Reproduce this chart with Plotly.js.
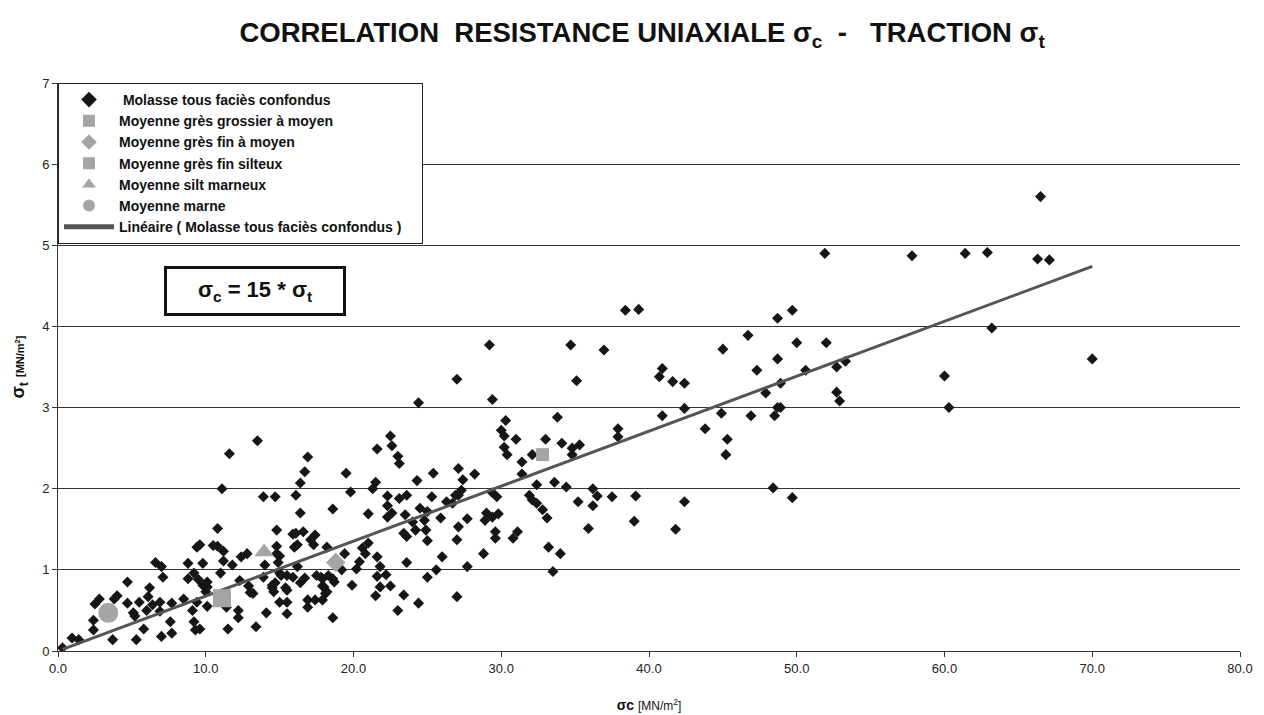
<!DOCTYPE html>
<html>
<head>
<meta charset="utf-8">
<script src="https://cdn.plot.ly/plotly-3.0.1.min.js"></script>
<style>html,body{margin:0;padding:0;background:#fff;}#chart{width:1264px;height:715px;}</style>
</head>
<body>
<div id="chart"></div>
<script>
// Molasse tous faciès confondus : [sigma_c, sigma_t] pairs (MN/m2)
const molassePairs = [
[0.3,0.04],[0.95,0.16],[1.4,0.14],[2.4,0.26],[2.4,0.38],[2.5,0.58],[2.8,0.64],[3.7,0.14],[3.8,0.64],[4.0,0.68],
[4.7,0.85],[4.7,0.59],[5.2,0.43],[5.3,0.14],[5.5,0.6],[5.8,0.27],[6.0,0.5],[6.1,0.67],[6.2,0.78],[6.6,1.09],
[7.0,1.04],[7.1,0.91],[6.4,0.57],[6.9,0.6],[6.9,0.49],[7.0,0.18],[7.6,0.36],[7.7,0.22],[7.7,0.59],[8.5,0.64],
[8.8,1.08],[8.8,0.89],[9.2,0.96],[9.4,1.28],[9.4,0.6],[9.1,0.5],[9.2,0.36],[9.3,0.26],[9.6,0.27],[9.8,1.08],
[9.8,0.81],[10.1,0.85],[10.1,0.55],[10.0,0.73],[10.8,1.51],[10.8,1.29],[11.0,0.96],[11.1,2.0],[11.2,1.11],[11.2,1.23],
[11.6,2.43],[11.8,1.06],[11.4,0.54],[11.5,0.27],[12.2,0.5],[12.2,0.41],[12.3,0.87],[12.4,1.16],[12.8,1.2],[12.9,0.8],
[13.2,0.71],[13.4,0.3],[13.5,2.59],[13.9,1.9],[14.0,1.06],[13.9,0.91],[14.1,0.47],[14.5,0.81],[14.6,0.73],[14.7,1.9],
[14.8,1.49],[14.8,1.29],[14.8,1.2],[15.0,0.96],[15.0,0.6],[15.5,0.6],[15.5,0.46],[15.5,0.75],[15.9,0.91],[16.1,1.45],
[16.2,1.31],[16.1,1.92],[16.4,2.07],[16.4,1.7],[16.7,2.21],[16.9,2.39],[16.2,1.04],[16.7,0.9],[16.9,0.63],[16.9,0.54],
[17.4,0.63],[16.6,1.47],[17.1,1.37],[17.4,1.43],[17.3,1.31],[17.9,0.89],[18.0,0.79],[18.2,0.73],[17.9,0.63],[18.6,1.75],
[18.6,0.41],[18.7,0.85],[18.2,1.28],[15.9,1.44],[9.6,1.31],[15.0,1.17],[16.0,1.28],[14.9,1.09],[15.1,0.93],[15.5,0.93],
[17.5,0.93],[17.8,0.91],[18.3,0.93],[18.6,0.89],[14.7,0.84],[14.5,0.78],[10.1,0.79],[13.0,0.72],[16.4,0.84],[17.9,0.8],
[18.1,0.71],[5.1,0.47],[9.5,0.88],[10.5,1.3],
[29.2,3.77],[34.7,3.77],[27.0,3.35],[35.1,3.33],[24.4,3.06],[29.4,3.1],[30.3,2.84],[30.0,2.72],[30.2,2.65],[31.0,2.61],
[33.8,2.88],[33.0,2.61],[34.1,2.56],[35.3,2.54],[34.8,2.5],[34.8,2.42],[30.2,2.51],[30.4,2.42],[31.4,2.33],[32.1,2.42],
[31.4,2.18],[32.4,2.05],[33.6,2.08],[34.4,2.02],[22.5,2.65],[22.6,2.53],[21.6,2.49],[23.0,2.4],[23.1,2.31],[19.5,2.19],
[19.8,1.96],[21.5,2.08],[21.3,2.0],[24.3,2.1],[25.4,2.19],[27.1,2.25],[27.4,2.11],[28.2,2.18],[27.3,1.98],[27.1,1.92],
[29.4,1.95],[29.7,1.9],[31.9,1.92],[32.1,1.86],[32.4,1.82],[32.8,1.74],[33.1,1.64],[35.2,1.84],[36.2,2.0],[36.5,1.91],
[36.2,1.79],[35.9,1.51],[33.2,1.28],[34.0,1.2],[33.5,0.98],[22.3,1.91],[22.3,1.79],[23.1,1.88],[23.6,1.92],[22.6,1.7],
[22.3,1.65],[23.5,1.68],[21.0,1.69],[25.3,1.9],[24.5,1.76],[25.0,1.72],[26.3,1.84],[26.7,1.82],[26.9,1.92],[24.0,1.59],
[24.8,1.61],[25.9,1.64],[24.9,1.49],[23.4,1.45],[23.6,1.41],[24.2,1.49],[25.0,1.36],[26.0,1.16],[23.6,1.09],[25.6,1.0],
[25.0,0.91],[27.7,1.63],[27.1,1.53],[27.0,1.37],[28.8,1.2],[27.7,1.04],[29.0,1.7],[29.4,1.65],[29.8,1.69],[28.9,1.61],
[29.6,1.47],[29.6,1.39],[31.1,1.47],[30.8,1.39],[21.0,1.33],[20.6,1.27],[20.8,1.2],[21.6,1.16],[20.4,1.1],[20.2,1.01],
[21.8,1.04],[22.2,0.94],[21.6,0.92],[21.8,0.79],[22.5,0.8],[23.4,0.69],[19.4,1.2],[19.2,1.0],[19.9,0.81],[15.4,0.78],
[27.0,0.67],[21.5,0.68],[24.4,0.59],[23.0,0.5],
[38.4,4.2],[36.95,3.71],[37.9,2.74],[37.9,2.64],[37.5,1.9],
[51.9,4.9],[39.3,4.21],[48.7,4.1],[49.7,4.2],[46.7,3.89],[45.0,3.72],[50.0,3.8],[52.0,3.8],[40.9,3.48],[40.7,3.38],
[41.6,3.32],[42.4,3.3],[47.3,3.46],[48.7,3.6],[50.6,3.46],[52.7,3.5],[53.3,3.57],[48.9,3.3],[47.9,3.18],[52.7,3.19],
[52.9,3.08],[42.4,2.99],[40.9,2.9],[44.9,2.93],[46.9,2.9],[48.5,2.9],[48.7,3.0],[48.9,3.0],[43.8,2.74],[45.3,2.61],
[45.2,2.42],[39.1,1.91],[42.4,1.84],[39.0,1.6],[41.8,1.5],[48.4,2.01],[49.7,1.89],
[66.5,5.6],[57.8,4.87],[61.4,4.9],[62.9,4.91],[66.3,4.83],[67.1,4.82],[63.2,3.98],[60.0,3.39],[70.0,3.6],[60.3,3.0]
];
const molasseX = molassePairs.map(p => p[0]);
const molasseY = molassePairs.map(p => p[1]);

// Moyennes par faciès
const gresGrossierX = [32.8], gresGrossierY = [2.42];
const gresFinMoyenX = [18.8], gresFinMoyenY = [1.09];
const gresFinSilteuxX = [11.1], gresFinSilteuxY = [0.65];
const siltMarneuxX = [13.95], siltMarneuxY = [1.22];
const marneX = [3.4], marneY = [0.47];

// Linear trend (end points)
const trendX = [0.3, 70.0];
const trendY = [0.02, 4.74];

const xTicks = [0,10,20,30,40,50,60,70,80];
const yTicks = [0,1,2,3,4,5,6,7];

const FONT = 'Liberation Sans, Arial, sans-serif';
const GREY = '#a5a5a5';

const traces = [
  {x: molasseX, y: molasseY, type:'scatter', mode:'markers', name:'\u00a0Molasse tous faciès confondus',
   marker:{symbol:'diamond', size:8.5, color:'#161616'}, legendrank:1},
  {x: trendX, y: trendY, type:'scatter', mode:'lines', name:'Linéaire ( Molasse tous faciès confondus )\u00a0\u00a0\u00a0\u00a0',
   line:{color:'#555555', width:3}, legendrank:7},
  {x: gresGrossierX, y: gresGrossierY, type:'scatter', mode:'markers', name:'Moyenne grès grossier à moyen',
   marker:{symbol:'square', size:13, color:GREY}, legendrank:2},
  {x: gresFinMoyenX, y: gresFinMoyenY, type:'scatter', mode:'markers', name:'Moyenne grès fin à moyen',
   marker:{symbol:'diamond', size:15, color:GREY}, legendrank:3},
  {x: gresFinSilteuxX, y: gresFinSilteuxY, type:'scatter', mode:'markers', name:'Moyenne grès fin silteux',
   marker:{symbol:'square', size:18, color:GREY}, legendrank:4},
  {x: siltMarneuxX, y: siltMarneuxY, type:'scatter', mode:'markers', name:'Moyenne silt marneux',
   marker:{symbol:'triangle-up', size:17, color:GREY}, legendrank:5},
  {x: marneX, y: marneY, type:'scatter', mode:'markers', name:'Moyenne marne',
   marker:{symbol:'circle', size:20, color:GREY}, legendrank:6}
];

const layout = {
  width:1264, height:715,
  paper_bgcolor:'#ffffff', plot_bgcolor:'#ffffff',
  margin:{l:58, r:24, t:83, b:64},
  font:{family:FONT, color:'#222'},
  title:{text:'CORRELATION  RESISTANCE UNIAXIALE σ<sub>c</sub>  -   TRACTION σ<sub>t</sub>',
    x:0.508, xref:'container', xanchor:'center', y:0.955, yref:'container', yanchor:'middle',
    font:{family:FONT, size:27.5, weight:'bold', color:'#111'}},
  showlegend:true,
  legend:{x:0, y:1, xref:'paper', yref:'paper', xanchor:'left', yanchor:'top',
    bgcolor:'#ffffff', bordercolor:'#222', borderwidth:1,
    font:{family:FONT, size:14, weight:'bold', color:'#111'},
    itemsizing:'constant', itemwidth:50, tracegroupgap:0, traceorder:'normal'},
  xaxis:{range:[0,80], tickvals:xTicks, tickformat:'.1f', ticks:'outside', ticklen:5, tickcolor:'#333',
    showline:true, linecolor:'#333', linewidth:1, showgrid:false, zeroline:false,
    tickfont:{family:FONT, size:13, color:'#222'},
    title:{text:'<b>σc</b> <span style="font-size:12px">[MN/m<sup>2</sup>]</span>', standoff:25,
      font:{family:FONT, size:14, color:'#111'}}},
  yaxis:{range:[0,7], tickvals:yTicks, ticks:'outside', ticklen:5, tickcolor:'#333',
    showline:true, linecolor:'#333', linewidth:1, showgrid:true, gridcolor:'#333', gridwidth:1, zeroline:false,
    tickfont:{family:FONT, size:13, color:'#222'},
    title:{text:'<b>σ<sub>t</sub></b> <span style="font-size:11px"><b>[MN/m<sup>2</sup>]</b></span>', standoff:12,
      font:{family:FONT, size:18, color:'#111'}}},
  annotations:[
    {xref:'paper', yref:'paper', x:0.1667, y:0.634, xanchor:'center', yanchor:'middle', showarrow:false,
     text:'σ<sub>c</sub> = 15 * σ<sub>t</sub>', font:{family:FONT, size:22, weight:'bold', color:'#111'},
     bgcolor:'#ffffff', bordercolor:'#111', borderwidth:3, borderpad:3, width:170, height:38, align:'center'}
  ]
};

Plotly.newPlot('chart', traces, layout, {staticPlot:true, displayModeBar:false});
</script>
</body>
</html>
